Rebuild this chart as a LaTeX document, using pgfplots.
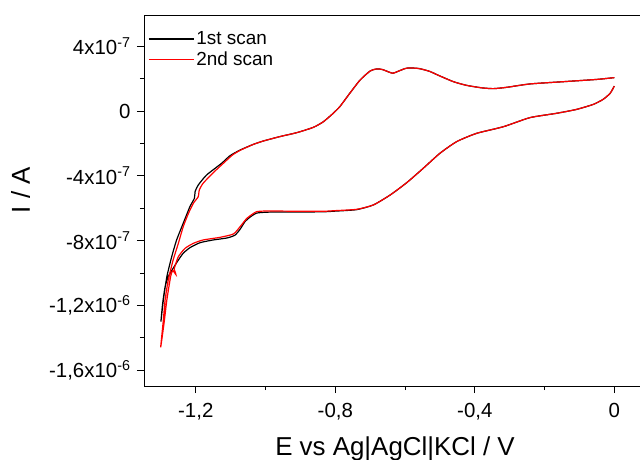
\documentclass[border=0pt]{standalone}
\usepackage{fontspec}
\setmainfont{Liberation Sans}
\usepackage{pgfplots}
\pgfplotsset{compat=1.18}
\begin{document}
\begin{tikzpicture}
\begin{axis}[
  at={(144bp,74bp)}, anchor=south west,
  width=498bp, height=371bp, scale only axis,
  xmin=-1.3485, xmax=0.0794,
  ymin=-16.975, ymax=5.926,
  axis line style={line width=0.9bp},
  tick align=outside, xtick pos=bottom, ytick pos=left,
  major tick length=7bp, minor tick length=4bp,
  every tick/.style={black, line width=0.8bp},
  xtick={-1.2,-0.8,-0.4,0},
  xticklabels={{-1,2},{-0,8},{-0,4},0},
  minor xtick={-1.0,-0.6,-0.2},
  ytick={-16,-12,-8,-4,0,4},
  yticklabels={{-1,6x10\textsuperscript{-6}},{-1,2x10\textsuperscript{-6}},{-8x10\textsuperscript{-7}},{-4x10\textsuperscript{-7}},0,{4x10\textsuperscript{-7}}},
  minor ytick={-14,-10,-6,-2,2},
  tick label style={font=\fontsize{20.5}{23}\selectfont},
  xticklabel style={yshift=-7bp},
  yticklabel style={xshift=-3bp},
  xlabel={E vs Ag|AgCl|KCl / V},
  ylabel={I / A},
  label style={font=\fontsize{26}{30}\selectfont},
  xlabel style={at={(axis description cs:0.504,-0.186)}, anchor=base},
  ylabel style={at={(axis description cs:-0.229,0.528)}, anchor=base},
  legend style={draw=none, fill=none, at={(axis description cs:0,1)}, anchor=north west, xshift=1bp, yshift=-12.5bp, font=\fontsize{19}{21}\selectfont, row sep=2bp},
  legend cell align=left,
  legend image code/.code={\draw[#1, line width=1.2bp] (0bp,0bp) -- (42bp,0bp); \path (0bp,0bp) -- (45bp,0bp);},
]
\addplot[black, line width=1.2bp, smooth, tension=0.35] coordinates {
(0.000,1.54) (-0.012,1.09) (-0.032,0.72) (-0.060,0.41) (-0.108,0.10) (-0.165,-0.14) (-0.242,-0.41) (-0.318,-0.97) (-0.395,-1.38) (-0.452,-1.89) (-0.500,-2.61) (-0.548,-3.54) (-0.595,-4.42) (-0.643,-5.19) (-0.691,-5.80) (-0.739,-6.09) (-0.800,-6.18) (-0.834,-6.22) (-0.911,-6.24) (-0.987,-6.24) (-1.025,-6.30) (-1.045,-6.56) (-1.059,-6.83) (-1.073,-7.30) (-1.088,-7.67) (-1.111,-7.84) (-1.150,-7.96) (-1.188,-8.13) (-1.217,-8.44) (-1.236,-8.78) (-1.250,-9.20) (-1.265,-9.71) (-1.279,-10.23) (-1.288,-10.85) (-1.295,-11.87) (-1.300,-13.0)
(-1.293,-11.67) (-1.283,-10.23) (-1.269,-8.99) (-1.255,-7.96) (-1.236,-6.93) (-1.217,-5.91) (-1.204,-5.39) (-1.202,-4.98) (-1.193,-4.57) (-1.169,-3.95) (-1.126,-3.23) (-1.102,-2.76) (-1.073,-2.41) (-1.035,-2.06) (-1.006,-1.85) (-0.959,-1.58) (-0.911,-1.34) (-0.863,-1.01) (-0.834,-0.66) (-0.806,-0.14) (-0.787,0.27) (-0.760,1.05) (-0.729,1.91) (-0.700,2.47) (-0.680,2.60) (-0.665,2.56) (-0.648,2.42) (-0.635,2.33) (-0.620,2.45) (-0.600,2.62) (-0.586,2.66) (-0.560,2.62) (-0.530,2.45) (-0.500,2.16) (-0.460,1.80) (-0.423,1.58) (-0.380,1.43) (-0.347,1.38) (-0.309,1.46) (-0.242,1.67) (-0.146,1.81) (-0.050,1.95) (0.000,2.06)
};
\addlegendentry{1st scan}
\addplot[red, line width=1.2bp, smooth, tension=0.35] coordinates {
(0.000,1.54) (-0.012,1.09) (-0.032,0.72) (-0.060,0.41) (-0.108,0.10) (-0.165,-0.14) (-0.242,-0.41) (-0.318,-0.97) (-0.395,-1.38) (-0.452,-1.89) (-0.500,-2.61) (-0.548,-3.54) (-0.595,-4.42) (-0.643,-5.19) (-0.691,-5.80) (-0.739,-6.07) (-0.800,-6.15) (-0.834,-6.19) (-0.911,-6.19) (-0.987,-6.17) (-1.025,-6.21) (-1.045,-6.48) (-1.054,-6.63) (-1.073,-7.14) (-1.092,-7.59) (-1.131,-7.80) (-1.179,-7.96) (-1.207,-8.17) (-1.231,-8.48) (-1.250,-8.99) (-1.260,-9.61) (-1.262,-9.75) (-1.257,-10.10) (-1.266,-9.85) (-1.272,-10.20) (-1.283,-11.67) (-1.291,-13.10) (-1.3007,-14.59)
(-1.293,-12.90) (-1.288,-11.67) (-1.279,-10.43) (-1.265,-9.20) (-1.250,-8.17) (-1.236,-7.14) (-1.221,-6.32) (-1.207,-5.70) (-1.193,-5.29) (-1.190,-4.88) (-1.179,-4.46) (-1.150,-3.81) (-1.116,-3.13) (-1.095,-2.72) (-1.073,-2.43) (-1.035,-2.06) (-1.006,-1.85) (-0.959,-1.58) (-0.911,-1.34) (-0.863,-1.01) (-0.834,-0.66) (-0.806,-0.14) (-0.787,0.27) (-0.760,1.05) (-0.729,1.91) (-0.700,2.47) (-0.680,2.60) (-0.665,2.56) (-0.648,2.42) (-0.635,2.33) (-0.620,2.45) (-0.600,2.62) (-0.586,2.66) (-0.560,2.62) (-0.530,2.45) (-0.500,2.16) (-0.460,1.80) (-0.423,1.58) (-0.380,1.43) (-0.347,1.38) (-0.309,1.46) (-0.242,1.67) (-0.146,1.81) (-0.050,1.95) (0.000,2.06)
};
\addlegendentry{2nd scan}
\end{axis}
\pgfresetboundingbox
\useasboundingbox (0,0) rectangle (640bp,460bp);
\end{tikzpicture}
\end{document}
